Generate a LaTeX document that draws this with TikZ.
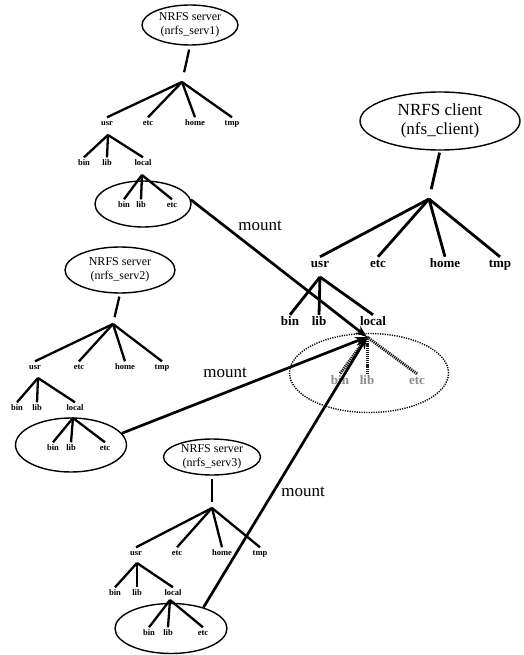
\documentclass[tikz,border=0pt]{standalone}
\usepackage{fontspec}
\setmainfont{Liberation Serif}
\usetikzlibrary{shapes.geometric,arrows.meta}

\tikzset{
  host/.style={draw, ellipse, line width=1.4pt, inner sep=0pt, align=center,
    font=\fontsize{12}{14}\selectfont},
  clienthost/.style={host, font=\fontsize{17}{19.5}\selectfont},
  grp/.style={draw, ellipse, line width=1.4pt, inner sep=0pt},
  ghostgrp/.style={draw, ellipse, line width=1.4pt, inner sep=0pt,
    dash pattern=on 1.2pt off 1.2pt},
  sdir/.style={anchor=base, font=\bfseries\fontsize{8.5}{9}\selectfont,
    inner xsep=0.5pt, inner ysep=1pt, text height=7pt, text depth=0pt},
  cdir/.style={anchor=base, font=\bfseries\fontsize{13}{15}\selectfont,
    inner xsep=0.5pt, inner ysep=1pt, text height=9pt, text depth=0pt},
  ghostdir/.style={cdir, text=black!45},
  sedge/.style={line width=2.3pt},
  cedge/.style={line width=2.8pt},
  mountline/.style={line width=2.7pt, -{Stealth[length=12pt,width=9pt]}},
  ghostedge/.style={line width=3pt, black!90, dash pattern=on 1.2pt off 0.9pt},
  mountlabel/.style={anchor=base, font=\fontsize{17}{19}\selectfont, inner sep=0pt},
}

\begin{document}
\begin{tikzpicture}[x=1pt, y=-1pt]
\useasboundingbox (0,0) rectangle (523,655);

% ---------------- server 1 ----------------
\node[host, minimum width=96pt, minimum height=40pt] (s1) at (190,25)
  {NRFS server\\(nrfs\_serv1)};
\coordinate (s1root) at (182,82);
\draw[sedge, shorten <=4pt, shorten >=10pt] (s1.south) -- (s1root);
\node[sdir] (s1usr)  at (107,125.5) {usr};
\node[sdir] (s1etc)  at (148,125.5) {etc};
\node[sdir] (s1home) at (195,125.5) {home};
\node[sdir] (s1tmp)  at (232,125.5) {tmp};
\foreach \n in {s1usr,s1etc,s1home,s1tmp} \draw[sedge] (s1root) -- (\n.north);
\coordinate (s1usrj) at (108,135);
\node[sdir] (s1bin)   at (84,165.5)  {bin};
\node[sdir] (s1lib)   at (107,165.5) {lib};
\node[sdir] (s1local) at (143,165.5) {local};
\foreach \n in {s1bin,s1lib,s1local} \draw[sedge] (s1usrj) -- (\n.north);
\coordinate (s1locj) at (142,175);
\node[grp, minimum width=96pt, minimum height=46pt] (g1) at (143,204) {};
\node[sdir] (s1lbin) at (124,207.5) {bin};
\node[sdir] (s1llib) at (141,207.5) {lib};
\node[sdir] (s1letc) at (172,207.5) {etc};
\foreach \n in {s1lbin,s1llib,s1letc} \draw[sedge] (s1locj) -- (\n.north);

% ---------------- server 2 ----------------
\node[host, minimum width=110pt, minimum height=46pt] (s2) at (120,270)
  {NRFS server\\(nrfs\_serv2)};
\coordinate (s2root) at (113,324);
\draw[sedge, shorten <=3pt, shorten >=7pt] (s2.south) -- (s2root);
\node[sdir] (s2usr)  at (35,369.5)  {usr};
\node[sdir] (s2etc)  at (79,369.5)  {etc};
\node[sdir] (s2home) at (125,369.5) {home};
\node[sdir] (s2tmp)  at (162,369.5) {tmp};
\foreach \n in {s2usr,s2etc,s2home,s2tmp} \draw[sedge] (s2root) -- (\n.north);
\coordinate (s2usrj) at (38,378);
\node[sdir] (s2bin)   at (17,410.5) {bin};
\node[sdir] (s2lib)   at (37,410.5) {lib};
\node[sdir] (s2local) at (75,410.5) {local};
\foreach \n in {s2bin,s2lib,s2local} \draw[sedge] (s2usrj) -- (\n.north);
\coordinate (s2locj) at (73,418);
\node[grp, minimum width=111pt, minimum height=54pt] (g2) at (71,445) {};
\node[sdir] (s2lbin) at (53,450.5)  {bin};
\node[sdir] (s2llib) at (71,450.5)  {lib};
\node[sdir] (s2letc) at (105,450.5) {etc};
\foreach \n in {s2lbin,s2llib,s2letc} \draw[sedge] (s2locj) -- (\n.north);

% ---------------- server 3 ----------------
\node[host, minimum width=97pt, minimum height=36pt] (s3) at (212,457)
  {NRFS server\\(nrfs\_serv3)};
\coordinate (s3root) at (212,508);
\draw[sedge, shorten <=3pt, shorten >=6pt] (s3.south) -- (s3root);
\node[sdir] (s3usr)  at (136,555.5) {usr};
\node[sdir] (s3etc)  at (177,555.5) {etc};
\node[sdir] (s3home) at (222,555.5) {home};
\node[sdir] (s3tmp)  at (260,555.5) {tmp};
\foreach \n in {s3usr,s3etc,s3home,s3tmp} \draw[sedge] (s3root) -- (\n.north);
\coordinate (s3usrj) at (137,563);
\node[sdir] (s3bin)   at (115,595.5) {bin};
\node[sdir] (s3lib)   at (137,595.5) {lib};
\node[sdir] (s3local) at (173,595.5) {local};
\foreach \n in {s3bin,s3lib,s3local} \draw[sedge] (s3usrj) -- (\n.north);
\coordinate (s3locj) at (170,600);
\node[grp, minimum width=112pt, minimum height=50pt] (g3) at (171,628.5) {};
\node[sdir] (s3lbin) at (149,635.5) {bin};
\node[sdir] (s3llib) at (168,635.5) {lib};
\node[sdir] (s3letc) at (203,635.5) {etc};
\foreach \n in {s3lbin,s3llib,s3letc} \draw[sedge] (s3locj) -- (\n.north);

% ---------------- client ----------------
\node[clienthost, minimum width=160pt, minimum height=58pt] (cl) at (440,121)
  {NRFS client\\(nfs\_client)};
\coordinate (clroot) at (429,199);
\draw[cedge, shorten <=2pt, shorten >=10pt] (cl.south) -- (clroot);
\node[cdir] (clusr)  at (320,267) {usr};
\node[cdir] (cletc)  at (378,267) {etc};
\node[cdir] (clhome) at (445,267) {home};
\node[cdir] (cltmp)  at (500,267) {tmp};
\foreach \n in {clusr,cletc,clhome,cltmp} \draw[cedge] (clroot) -- (\n.north);
\coordinate (clusrj) at (320,277);
\node[cdir] (clbin)   at (290,325) {bin};
\node[cdir] (cllib)   at (319,325) {lib};
\node[cdir] (cllocal) at (373,325) {local};
\foreach \n in {clbin,cllib,cllocal} \draw[cedge] (clusrj) -- (\n.north);
\coordinate (cmount) at (367,337);

% mounted subtree shown in place under the client's local
\node[ghostgrp, minimum width=159pt, minimum height=79pt] (gc) at (369,373) {};
\node[ghostdir] (cgbin) at (340,384) {bin};
\node[ghostdir] (cglib) at (367,384) {lib};
\node[ghostdir] (cgetc) at (417,384) {etc};
\foreach \n in {cgbin,cglib,cgetc} \draw[ghostedge] (cmount) -- (\n.north);

% ---------------- mounts ----------------
\draw[mountline] (g1.5)  -- (cmount);
\draw[mountline] (g2.13) -- (cmount);
\draw[mountline] (g3.33) -- (cmount);
\node[mountlabel] (m1) at (260,230) {mount};
\node[mountlabel] (m2) at (225,377) {mount};
\node[mountlabel] (m3) at (303,496) {mount};
\end{tikzpicture}
\end{document}
